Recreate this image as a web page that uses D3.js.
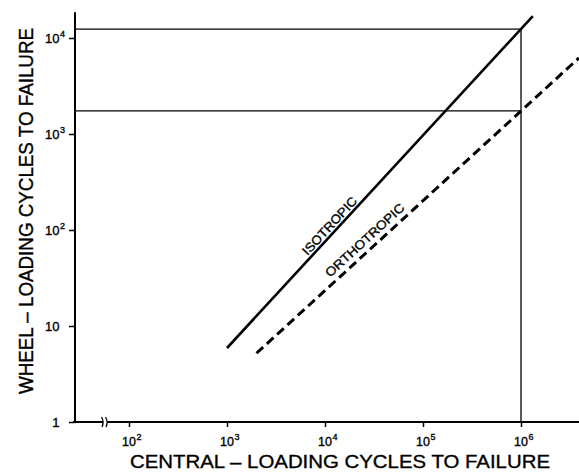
<!DOCTYPE html>
<html>
<head>
<meta charset="utf-8">
<script src="https://cdn.jsdelivr.net/npm/d3@7"></script>
<style>
  html, body { margin: 0; padding: 0; background: #fff; }
  svg { display: block; }
  text { font-family: "Liberation Sans", Arial, Helvetica, sans-serif; fill: #000; stroke: #000; stroke-width: 0.35px; }
</style>
</head>
<body>
<script>
// Fatigue life comparison: central loading vs wheel loading (log–log)

// Axis ticks
const xTickValues = [1e2, 1e3, 1e4, 1e5, 1e6];
const xTickBase   = ["10", "10", "10", "10", "10"];
const xTickExp    = ["2", "3", "4", "5", "6"];

const yTickValues = [1, 10, 100, 1000, 10000];
const yTickBase   = ["1", "10", "10", "10", "10"];
const yTickExp    = ["", "", "2", "3", "4"];

// Fatigue lines (central-loading cycles, wheel-loading cycles)
const isoCentral   = [1.0e3, 1.32e6];
const isoWheel     = [5.9, 1.69e4];
const orthoCentral = [2.0e3, 3.9e6];
const orthoWheel   = [5.2, 6.2e3];

// Read-off lines at 10^6 central-loading cycles
const refCentral = 1e6;
const refWheel   = [1.24e4, 1.74e3];

// Line labels: position along the line (central cycles) and text
const lineLabels = ["ISOTROPIC", "ORTHOTROPIC"];
const labelCentral = [7.0e3, 1.24e4];

const W = 579, H = 472;
const svg = d3.select("body").append("svg").attr("width", W).attr("height", H);

const x = d3.scaleLog().domain([1e2, 1e6]).range([129, 521]);
const y = d3.scaleLog().domain([1, 1e4]).range([422, 38]);

const axisX = 75;          // position of the vertical axis
const yTopValue = 1.85e4;  // upper end of the vertical axis
const xLeft = 73, xRight = W;

// --- read-off lines
const g = svg.append("g");
refWheel.forEach(v => {
  g.append("line")
    .attr("x1", axisX).attr("x2", x(refCentral))
    .attr("y1", y(v)).attr("y2", y(v))
    .attr("stroke", "#000").attr("stroke-width", 1.3);
});
g.append("line")
  .attr("x1", x(refCentral)).attr("x2", x(refCentral))
  .attr("y1", y(d3.max(refWheel))).attr("y2", y(1))
  .attr("stroke", "#000").attr("stroke-width", 1.3);

// --- axes (ticks via d3 axes, domain lines drawn separately)
const gx = svg.append("g").attr("transform", `translate(0,${y(1)})`)
  .call(d3.axisBottom(x).tickValues(xTickValues).tickSize(5).tickFormat(""));
gx.select(".domain").remove();
gx.selectAll(".tick line").attr("stroke", "#000").attr("stroke-width", 1.5);

const gy = svg.append("g").attr("transform", `translate(${axisX},0)`)
  .call(d3.axisLeft(y).tickValues(yTickValues).tickSize(6).tickFormat(""));
gy.select(".domain").remove();
gy.selectAll(".tick line").attr("stroke", "#000").attr("stroke-width", 1.5);

svg.append("line")
  .attr("x1", xLeft).attr("x2", xRight)
  .attr("y1", y(1)).attr("y2", y(1))
  .attr("stroke", "#000").attr("stroke-width", 2);
svg.append("line")
  .attr("x1", axisX).attr("x2", axisX)
  .attr("y1", y(yTopValue)).attr("y2", y(1) + 1)
  .attr("stroke", "#000").attr("stroke-width", 2);

// axis break on the horizontal axis
const brk = 105;
svg.append("rect").attr("x", brk - 2).attr("y", y(1) - 3).attr("width", 4).attr("height", 6).attr("fill", "#fff");
[-2, 2].forEach(dx => {
  svg.append("path")
    .attr("d", `M${brk + dx - 1.5},${y(1) - 5} Q${brk + dx + 1.5},${y(1)} ${brk + dx - 1},${y(1) + 5}`)
    .attr("fill", "none").attr("stroke", "#000").attr("stroke-width", 1.3);
});

// tick labels
xTickValues.forEach((v, i) => {
  svg.append("text")
    .attr("x", x(v)).attr("y", 446)
    .attr("text-anchor", "middle")
    .attr("font-size", 12.5)
    .text(xTickBase[i]);
  svg.append("text")
    .attr("x", x(v) + 7.5).attr("y", 440)
    .attr("font-size", 9)
    .text(xTickExp[i]);
});
yTickValues.forEach((v, i) => {
  svg.append("text")
    .attr("x", 59.5).attr("y", y(v) + 5)
    .attr("text-anchor", "end")
    .attr("font-size", 13)
    .text(yTickBase[i]);
  if (yTickExp[i]) {
    svg.append("text")
      .attr("x", 60).attr("y", y(v) - 1)
      .attr("font-size", 9)
      .text(yTickExp[i]);
  }
});

// axis titles
svg.append("text")
  .attr("x", 340).attr("y", 468)
  .attr("text-anchor", "middle")
  .attr("font-size", 19)
  .attr("textLength", 420).attr("lengthAdjust", "spacingAndGlyphs")
  .text("CENTRAL – LOADING  CYCLES  TO  FAILURE");
svg.append("text")
  .attr("transform", `translate(33,211) rotate(-90)`)
  .attr("text-anchor", "middle")
  .attr("font-size", 20)
  .attr("textLength", 366).attr("lengthAdjust", "spacingAndGlyphs")
  .text("WHEEL – LOADING  CYCLES  TO  FAILURE");

// --- fatigue lines
const line = d3.line().x(d => x(d[0])).y(d => y(d[1]));
const isoData = d3.zip(isoCentral, isoWheel);
const orthoData = d3.zip(orthoCentral, orthoWheel);

svg.append("path").datum(isoData)
  .attr("d", line).attr("fill", "none")
  .attr("stroke", "#000").attr("stroke-width", 2.6);
svg.append("path").datum(orthoData)
  .attr("d", line).attr("fill", "none")
  .attr("stroke", "#000").attr("stroke-width", 3)
  .attr("stroke-dasharray", "9,5");

// labels laid along each line
function logInterp(cx, xs, ys) {
  const t = (Math.log10(cx) - Math.log10(xs[0])) / (Math.log10(xs[1]) - Math.log10(xs[0]));
  return Math.pow(10, Math.log10(ys[0]) + t * (Math.log10(ys[1]) - Math.log10(ys[0])));
}
const series = [[isoCentral, isoWheel], [orthoCentral, orthoWheel]];
const labelLen = [74, 102];
const labelOff = [3, 6];
lineLabels.forEach((txt, i) => {
  const [xs, ys] = series[i];
  const px = x(labelCentral[i]);
  const py = y(logInterp(labelCentral[i], xs, ys));
  const dx = x(xs[1]) - x(xs[0]), dy = y(ys[1]) - y(ys[0]);
  const ang = Math.atan2(dy, dx) * 180 / Math.PI;
  svg.append("text")
    .attr("transform", `translate(${px},${py}) rotate(${ang}) translate(0,${-labelOff[i]})`)
    .attr("font-size", 12.5)
    .attr("textLength", labelLen[i]).attr("lengthAdjust", "spacingAndGlyphs")
    .text(txt);
});
</script>
</body>
</html>
